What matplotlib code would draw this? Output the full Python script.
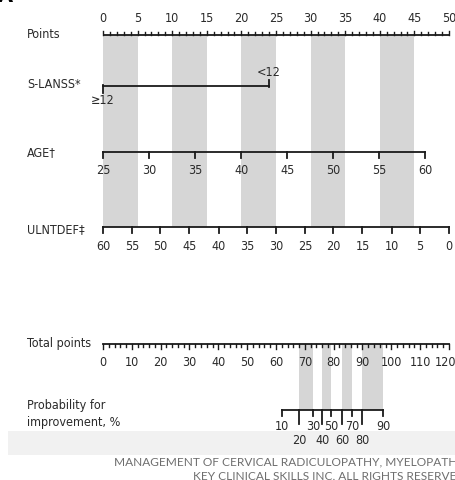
import matplotlib
matplotlib.use("Agg")
import matplotlib.pyplot as plt
from matplotlib import font_manager
from matplotlib.patches import Rectangle

# pick a narrow sans face for the nomogram labels, if one is installed
narrow = None
for f in font_manager.fontManager.ttflist:
    n = f.name.lower()
    if ('narrow' in n or 'condensed' in n or f.stretch in ('condensed', 'semi-condensed')) \
            and f.style == 'normal' and f.weight in (400, 'normal', 'regular'):
        narrow = f
        break

if narrow is not None:
    label_font = dict(family=[narrow.name, 'DejaVu Sans'], stretch=narrow.stretch)
    fs = 9.0
else:
    label_font = dict(family=['Liberation Sans', 'DejaVu Sans'])
    fs = 8.0

# ---- nomogram data ----
points_ticks = list(range(0, 51))
points_labels = [0, 5, 10, 15, 20, 25, 30, 35, 40, 45, 50]

slanss_levels = ['\u226512', '<12']
slanss_points = [0, 24.0]

age_values = [25, 30, 35, 40, 45, 50, 55, 60]
age_points = [0, 6.7, 13.3, 20.0, 26.6, 33.3, 39.9, 46.6]

ulnt_values = [60, 55, 50, 45, 40, 35, 30, 25, 20, 15, 10, 5, 0]
ulnt_points = [0, 4.2, 8.3, 12.5, 16.7, 20.8, 25.0, 29.2, 33.3, 37.5, 41.7, 45.8, 50.0]

total_max = 120
total_labels = [0, 10, 20, 30, 40, 50, 60, 70, 80, 90, 100, 110, 120]
total_minor = list(range(0, 121, 2))

prob_values = [10, 20, 30, 40, 50, 60, 70, 80, 90]
prob_total_points = [62.0, 68.1, 72.9, 76.1, 79.1, 82.9, 86.3, 90.0, 97.1]

row_labels = ['Points', 'S-LANSS*', 'AGE\u2020', 'ULNTDEF\u2021', 'Total points',
              'Probability for\nimprovement, %']

# ---- figure: one axes spanning the canvas, x in "Points" units ----
W, H = 456, 480
fig = plt.figure(figsize=(W / 100, H / 100), dpi=100)
ax = fig.add_axes([0, 0, 1, 1])
px_per_pt = 346 / 50.0
x0 = 103
ax.set_xlim(-x0 / px_per_pt, (W - x0) / px_per_pt)
ax.set_ylim(H, 0)
ax.axis('off')

ink = '#1a1a1a'
txt = '#2a2a2a'
band = '#d6d6d6'
lw = 1.3

def label(x, y, s, **kw):
    opts = dict(ha='center', va='center', fontsize=fs, color=txt)
    opts.update(label_font)
    opts.update(kw)
    ax.text(x, y, s, **opts)

def tp(v):
    # total points -> position on the Points scale
    return v * 50.0 / total_max

# row positions (vertical layout)
y_pts, y_sl, y_age, y_uln, y_tot, y_prob = 35, 86, 152.3, 227.3, 344, 409.5

# gray guide bands in the upper block (every other 5-point interval)
for a in range(0, 50, 10):
    ax.add_patch(Rectangle((a, y_pts), 5, y_uln - y_pts, color=band, lw=0, zorder=0))

# gray guide bands in the lower block (20-30, 40-50, 60-70, 80-90 %)
for i in (1, 3, 5, 7):
    xa, xb = tp(prob_total_points[i]), tp(prob_total_points[i + 1])
    ax.add_patch(Rectangle((xa, y_tot), xb - xa, y_prob - y_tot, color=band, lw=0, zorder=0))

# Points scale
ax.plot([points_ticks[0], points_ticks[-1]], [y_pts, y_pts], color=ink, lw=lw, solid_capstyle='butt')
for t in points_ticks:
    h = 4.5 if t % 5 == 0 else 2.7
    ax.plot([t, t], [y_pts, y_pts - h], color=ink, lw=1.0)
for t in points_labels:
    label(t, 18, str(t))

# S-LANSS
ax.plot(slanss_points, [y_sl, y_sl], color=ink, lw=lw)
ax.plot([slanss_points[0]] * 2, [y_sl - 0.6, y_sl + 7], color=ink, lw=lw)
ax.plot([slanss_points[1]] * 2, [y_sl + 0.6, y_sl - 6], color=ink, lw=lw)
label(slanss_points[0], 101, slanss_levels[0])
label(slanss_points[1], 73, slanss_levels[1])

# AGE
ax.plot([age_points[0], age_points[-1]], [y_age, y_age], color=ink, lw=lw)
for v, p in zip(age_values, age_points):
    ax.plot([p, p], [y_age, y_age + 5.5], color=ink, lw=lw)
    label(p, 171, str(v))

# ULNTDEF
ax.plot([ulnt_points[0], ulnt_points[-1]], [y_uln, y_uln], color=ink, lw=lw)
for v, p in zip(ulnt_values, ulnt_points):
    ax.plot([p, p], [y_uln, y_uln + 5.7], color=ink, lw=lw)
    label(p, 246.7, str(v))

# Total points
ax.plot([tp(0), tp(total_max)], [y_tot, y_tot], color=ink, lw=lw)
for t in total_minor:
    h = 4.5 if t % 10 == 0 else 2.7
    ax.plot([tp(t), tp(t)], [y_tot, y_tot + h], color=ink, lw=1.0)
for t in total_labels:
    if t == total_labels[-1]:
        # keep the last label inside the canvas
        label(tp(t) + 1.0, 362, str(t), ha='right')
    else:
        label(tp(t), 362, str(t))

# Probability for improvement
ax.plot([tp(prob_total_points[0]), tp(prob_total_points[-1])], [y_prob, y_prob], color=ink, lw=lw)
for k, (v, p) in enumerate(zip(prob_values, prob_total_points)):
    x = tp(p)
    if k % 2 == 0:
        ax.plot([x, x], [y_prob, y_prob + 6], color=ink, lw=lw)
        label(x, 427, str(v))
    else:
        ax.plot([x, x], [y_prob, y_prob + 14], color=ink, lw=lw)
        label(x, 440, str(v), zorder=5)

# row titles
title_y = [34, 84, 153, 230, 343, 414]
for lab, yy in zip(row_labels, title_y):
    label(-76 / px_per_pt, yy, lab, ha='left', linespacing=1.35)

# footer strip and credit
fig.patches.append(Rectangle((8 / W, 1 - 455 / H), 1, 24 / H, transform=fig.transFigure,
                             color='#f1f1f1', lw=0, zorder=-1))
fig.text(114 / W, 1 - 462 / H, 'MANAGEMENT OF CERVICAL RADICULOPATHY, MYELOPATHY',
         ha='left', va='center', fontsize=8.6, color='#6e6e6e', family=['Lato', 'DejaVu Sans'])
fig.text(193 / W, 1 - 476 / H, 'KEY CLINICAL SKILLS INC. ALL RIGHTS RESERVED',
         ha='left', va='center', fontsize=8.6, color='#6e6e6e', family=['Lato', 'DejaVu Sans'])

# panel letter at the top edge
fig.text(-2 / W, 1 - 2.5 / H, 'A', ha='left', va='baseline', fontsize=14, weight='bold',
         color='black', family=['DejaVu Sans'])

fig.savefig('out.png', dpi=100)
